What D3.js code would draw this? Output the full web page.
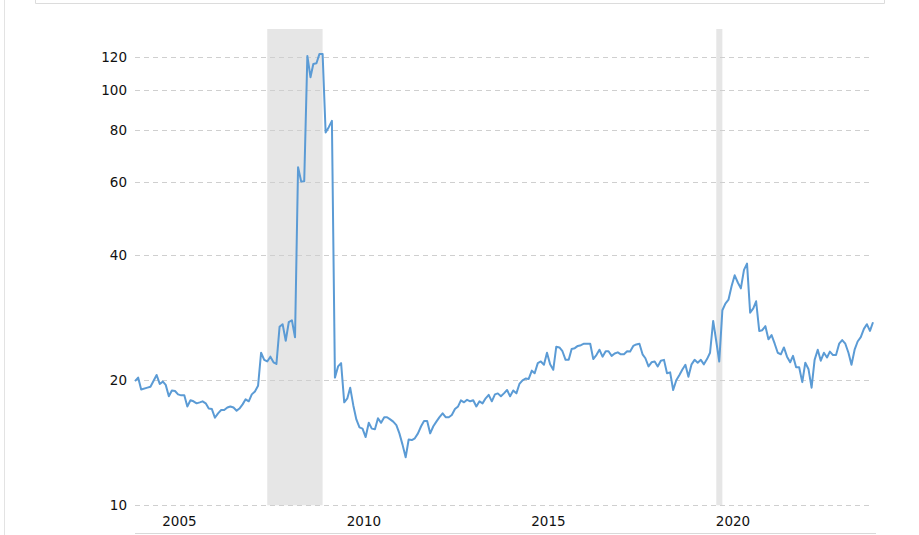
<!DOCTYPE html>
<html>
<head>
<meta charset='utf-8'>
<title>PE ratio</title>
<script src='https://d3js.org/d3.v7.min.js'></script>
<style>
body {margin: 0; background: #fff;}
text {font-family: 'DejaVu Sans', Verdana, sans-serif; font-size: 13.5px; fill: #111;}
</style>
</head>
<body>
<div id='chart'></div>
<script>

// monthly values
var months = [
  '2004-05','2004-06','2004-07','2004-09','2004-10','2004-12',
  '2005-01','2005-02','2005-03','2005-04','2005-05','2005-06','2005-07','2005-08','2005-09','2005-10','2005-11','2005-12',
  '2006-01','2006-02','2006-03','2006-04','2006-05','2006-06','2006-07','2006-08','2006-09','2006-10','2006-11','2006-12',
  '2007-01','2007-02','2007-03','2007-04','2007-05','2007-06','2007-07','2007-08','2007-09','2007-10','2007-11','2007-12',
  '2008-01','2008-02','2008-03','2008-04','2008-05','2008-06','2008-07','2008-08','2008-09','2008-10','2008-11','2008-12',
  '2009-01','2009-02','2009-03','2009-04','2009-05','2009-06','2009-07','2009-08','2009-09','2009-10','2009-11','2009-12',
  '2010-01','2010-02','2010-03','2010-04','2010-05','2010-06','2010-07','2010-08','2010-09','2010-10','2010-11','2010-12',
  '2011-01','2011-02','2011-03','2011-04','2011-05','2011-06','2011-07','2011-08','2011-09','2011-10','2011-11','2011-12',
  '2012-01','2012-02','2012-03','2012-04','2012-05','2012-06','2012-07','2012-08','2012-09','2012-10','2012-11','2012-12',
  '2013-01','2013-02','2013-03','2013-04','2013-05','2013-06','2013-07','2013-08','2013-09','2013-10','2013-11','2013-12',
  '2014-01','2014-02','2014-03','2014-04','2014-05','2014-06','2014-07','2014-08','2014-09','2014-10','2014-11','2014-12',
  '2015-01','2015-02','2015-03','2015-04','2015-05','2015-06','2015-07','2015-08','2015-09','2015-10','2015-11','2015-12',
  '2016-01','2016-02','2016-03','2016-04','2016-05','2016-06','2016-07','2016-08','2016-09','2016-10','2016-11','2016-12',
  '2017-01','2017-02','2017-03','2017-04','2017-05','2017-06','2017-07','2017-08','2017-09','2017-10','2017-11','2017-12',
  '2018-01','2018-02','2018-03','2018-04','2018-05','2018-06','2018-07','2018-08','2018-09','2018-10','2018-11','2018-12',
  '2019-01','2019-02','2019-03','2019-04','2019-05','2019-06','2019-07','2019-08','2019-09','2019-10','2019-11','2019-12',
  '2020-01','2020-02','2020-03','2020-04','2020-05','2020-06','2020-07','2020-08','2020-09','2020-10','2020-11','2020-12',
  '2021-01','2021-02','2021-03','2021-04','2021-05','2021-06','2021-07','2021-08','2021-09','2021-10','2021-11','2021-12',
  '2022-01','2022-02','2022-03','2022-04','2022-05','2022-06','2022-07','2022-08','2022-09','2022-10','2022-11','2022-12',
  '2023-01','2023-02','2023-03','2023-04','2023-05','2023-06','2023-07','2023-08','2023-09','2023-10','2023-11','2023-12',
  '2024-01','2024-02','2024-03','2024-04','2024-05'
];

var ratio = [
  19.9, 20.3, 19.0, 19.2, 19.3, 20.6,
  19.6, 19.85, 19.5, 18.3, 18.9, 18.85, 18.5, 18.4, 18.4, 17.3, 17.9, 17.8,
  17.6, 17.7, 17.8, 17.6, 17.1, 17.05, 16.25, 16.65, 16.96, 16.96, 17.2, 17.3,
  17.2, 16.9, 17.1, 17.5, 18.0, 17.8, 18.5, 18.8, 19.4, 23.3, 22.4, 22.2,
  22.8, 22.1, 21.9, 26.9, 27.3, 24.9, 27.6, 27.9, 25.4, 65.2, 60.2, 60.3,
  120.8, 107.4, 115.6, 116, 122.2, 122.2, 79.0, 81.4, 84.3, 20.3, 21.6, 22.0,
  17.7, 18.1, 19.2, 17.4, 16.1, 15.4, 15.3, 14.6, 15.8, 15.3, 15.25, 16.2,
  15.8, 16.3, 16.3, 16.1, 15.9, 15.6, 14.9, 14.0, 13.05, 14.4, 14.36, 14.5,
  14.9, 15.5, 15.95, 15.95, 14.9, 15.5, 15.9, 16.3, 16.65, 16.3, 16.3, 16.5,
  17.05, 17.3, 17.9, 17.7, 17.95, 17.8, 17.9, 17.3, 17.8, 17.6, 18.1, 18.45,
  17.8, 18.5, 18.6, 18.3, 18.6, 18.95, 18.3, 18.9, 18.6, 19.6, 20.0, 20.2,
  20.15, 21.1, 20.8, 22.0, 22.2, 21.8, 23.3, 21.85, 21.2, 24.1, 24.0, 23.5,
  22.4, 22.4, 23.8, 23.9, 24.2, 24.3, 24.5, 24.5, 24.5, 22.5, 23.0, 23.7,
  22.8, 23.5, 23.5, 22.9, 23.2, 23.35, 23.1, 23.1, 23.5, 23.45, 24.2, 24.4,
  24.5, 23.1, 22.6, 21.6, 22.1, 22.2, 21.6, 22.3, 22.4, 20.8, 20.9, 18.95,
  20.0, 20.6, 21.2, 21.8, 20.4, 21.85, 22.4, 22.05, 22.4, 21.85, 22.5, 23.3,
  27.8, 24.8, 22.2, 29.5, 30.6, 31.3, 33.7, 35.8, 34.4, 33.3, 36.9, 38.2,
  29.1, 29.8, 31.0, 26.3, 26.4, 27.0, 25.1, 25.7, 24.5, 23.3, 23.1, 24.0,
  22.8, 22.1, 22.9, 21.5, 21.5, 19.8, 22.05, 21.3, 19.2, 22.4, 23.7, 22.3,
  23.3, 22.7, 23.45, 23.0, 23.0, 24.5, 25.0, 24.5, 23.3, 21.8, 23.7, 24.8,
  25.4, 26.6, 27.3, 26.3, 27.6
];

var yTicks = [10, 20, 40, 60, 80, 100, 120];
var xYears = [2005, 2010, 2015, 2020];
var recessionStart = ['2007-12', '2020-02'];
var recessionEnd = ['2009-06', '2020-04'];

var width = 919, height = 535;
var plot = {left: 135, right: 873, gridEnd: 871, top: 29, bottom: 505.3};

var parseMonth = d3.timeParse('%Y-%m');
var data = months.map(function(m, i) { return {date: parseMonth(m), value: ratio[i]}; });

var svg = d3.select('#chart')
    .append('svg')
    .attr('width', width)
    .attr('height', height);

// frame bits of the page around the chart
svg.append('line')
    .attr('x1', 4.5).attr('x2', 4.5).attr('y1', 0).attr('y2', height)
    .attr('stroke', '#e3e3e3');
svg.append('path')
    .attr('d', 'M35.5,0V3.5H884.5V0')
    .attr('fill', 'none')
    .attr('stroke', '#dcdcdc');

var x = d3.scaleTime()
    .domain([parseMonth('2004-05'), parseMonth('2024-05')])
    .range([plot.left, plot.right]);

var y = d3.scaleLog()
    .domain([10, 140.3])
    .range([plot.bottom, plot.top]);

// recession bands
svg.append('g')
    .selectAll('rect')
    .data(recessionStart)
    .enter()
    .append('rect')
    .attr('x', function(d) { return x(parseMonth(d)); })
    .attr('width', function(d, i) { return x(parseMonth(recessionEnd[i])) - x(parseMonth(d)); })
    .attr('y', plot.top)
    .attr('height', plot.bottom - plot.top)
    .attr('fill', '#e6e6e6');

// grid
svg.append('g')
    .selectAll('line')
    .data(yTicks)
    .enter()
    .append('line')
    .attr('x1', plot.left)
    .attr('x2', plot.gridEnd)
    .attr('y1', function(d) { return Math.round(y(d)) + 0.5; })
    .attr('y2', function(d) { return Math.round(y(d)) + 0.5; })
    .attr('stroke', '#cfcfcf')
    .attr('stroke-dasharray', '5,4');

svg.append('g')
    .selectAll('text')
    .data(yTicks)
    .enter()
    .append('text')
    .attr('x', 127)
    .attr('y', function(d) { return y(d); })
    .attr('dy', '0.36em')
    .attr('text-anchor', 'end')
    .text(function(d) { return d; });

// x axis
svg.append('line')
    .attr('x1', plot.left).attr('x2', 876)
    .attr('y1', 533.5).attr('y2', 533.5)
    .attr('stroke', '#d9d9d9');

svg.append('g')
    .selectAll('text')
    .data(xYears)
    .enter()
    .append('text')
    .attr('x', function(d) { return x(new Date(d, 6, 15)); })
    .attr('y', 525.5)
    .attr('text-anchor', 'middle')
    .text(function(d) { return d; });

// the series
svg.append('path')
    .datum(data)
    .attr('fill', 'none')
    .attr('stroke', '#5b9bd5')
    .attr('stroke-width', 2)
    .attr('stroke-linejoin', 'round')
    .attr('d', d3.line()
        .x(function(d) { return x(d.date); })
        .y(function(d) { return y(d.value); }));

</script>
</body>
</html>
